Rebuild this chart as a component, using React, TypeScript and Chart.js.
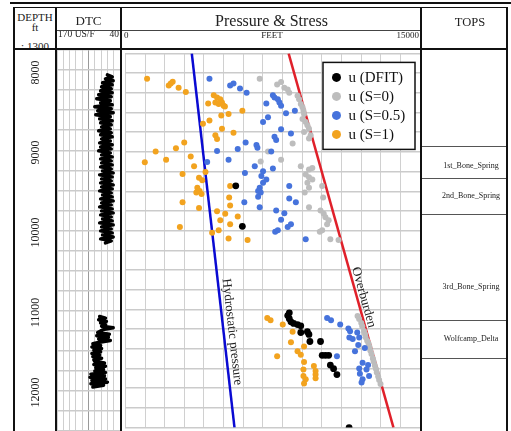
import React, { useEffect, useRef } from "react";
import { Chart, registerables } from "chart.js";

Chart.register(...registerables);

const SERIF = "'Liberation Serif', 'Times New Roman', Times, serif";

// Depth window shared by every track (ft, increasing downward)
const depthTop = 7720;
const depthBottom = 12480;
const depthGridStep = 250;
const depthMajorStep = 1000;
const depthLabels = [8000, 9000, 10000, 11000, 12000];

// Sonic track: DTC in us/ft, 170 on the left, 40 on the right
const dtcScaleLeft = 170;
const dtcScaleRight = 40;
const dtcGridStep = 13;

const dtcUpperTop = 8030;
const dtcUpperSpacing = 25;
const dtcUpper = [
  66, 56, 70, 54,
  76, 56, 78, 58, 80, 56,
  84, 58, 88, 60, 80, 56,
  92, 58, 86, 54, 90, 60, 82,
  56, 80, 58, 78, 60, 84, 58, 80, 56, 78, 60,
  82, 56, 80, 58, 84, 60, 78, 56, 80, 58,
  78, 56, 80, 58, 76, 54, 82, 56, 78, 58, 80, 54, 78, 56, 82, 58, 76, 56, 80, 54,
  78, 58, 82, 56, 78, 54, 80, 58, 76, 56, 82, 54, 78, 58, 80, 56, 76, 54, 80, 58, 70,
];

const dtcLowerTop = 11050;
const dtcLowerSpacing = 20;
const dtcLower = [
  82, 70, 84, 68, 80, 70, 78,
  54, 72, 80,
  86, 62, 88, 64, 84, 60, 82,
  96, 80, 98, 78, 94, 80, 98, 82, 96, 78, 94,
  92, 72, 94, 70, 90, 74, 92, 70,
  100, 72, 102, 70, 98, 66, 100, 74, 96,
];

// Pressure & stress track (psi)
const pressureMin = 0;
const pressureMax = 15000;
const pressureGridStep = 1000;

// Points are [pressure, depth]
type Pt = [number, number];

const uDfit: Pt[] = [
  [5620, 9405], [5955, 9920],
  [8345, 11020], [8265, 11055], [8345, 11095], [8430, 11135], [8565, 11155], [8765, 11170],
  [8930, 11185], [8930, 11270], [9265, 11260], [9345, 11295], [9395, 11385], [9935, 11385],
  [10020, 11560], [10185, 11560], [10350, 11560], [10435, 11685], [10600, 11730], [10770, 11805],
  [11390, 12480],
];

const uS0: Pt[] = [
  [6838, 8044], [7726, 8115], [7927, 8085], [8092, 8156], [8263, 8178], [8343, 8219],
  [8765, 8260], [8845, 8303], [8930, 8365], [9016, 8406], [9066, 8448], [9096, 8490],
  [9016, 8553], [9181, 8594], [9266, 8635], [9347, 8678], [9096, 8719], [9432, 8760],
  [9347, 8803], [8514, 8865], [7260, 8969], [7927, 9073], [6888, 9094], [8930, 9156],
  [9347, 9198], [9517, 9178], [9181, 9260], [9347, 9294], [9517, 9323], [9266, 9365],
  [10019, 9406], [9347, 9428], [9131, 9490], [10069, 9553], [9347, 9678], [9934, 9719],
  [10099, 9760], [10185, 9803], [10350, 9844], [10270, 9894], [10019, 9969], [9898, 9990],
  [10435, 10085], [10852, 10094],
  [11820, 11060], [11900, 11100], [12010, 11150], [12060, 11190], [12150, 11250],
  [12200, 11290], [12230, 11330], [12310, 11375], [12380, 11410], [12430, 11455],
  [12470, 11500], [12530, 11545], [12600, 11600], [12640, 11640], [12700, 11690],
  [12760, 11735], [12800, 11780], [12870, 11830], [12920, 11875], [12990, 11925],
];

const uS05: Pt[] = [
  [4280, 8044], [5333, 8128], [5504, 8103], [5835, 8165], [6171, 8219], [7510, 8253],
  [7591, 8281], [7761, 8303], [7842, 8344], [7927, 8385], [7174, 8356], [8178, 8481],
  [8629, 8448], [7260, 8531], [7009, 8594], [7927, 8685], [8429, 8740], [7591, 8781],
  [7676, 8823], [6121, 8853], [6673, 8885], [6723, 8919], [5719, 8935], [4666, 8960],
  [7425, 8969], [5253, 9073], [4164, 9103], [6587, 9156], [7510, 9185], [7009, 9219],
  [6923, 9281], [6086, 9240], [7174, 9323], [7009, 9365], [8343, 9406], [6838, 9428],
  [6758, 9469], [6888, 9490], [6758, 9544], [8343, 9565], [8679, 9615], [6055, 9615],
  [6838, 9678], [7676, 9719], [8092, 9753], [7927, 9835], [8429, 9894], [8263, 9928],
  [7626, 9990], [7761, 9969], [9181, 10085],
  [10270, 11085], [10470, 11115], [10937, 11169], [11354, 11219], [11439, 11253],
  [11805, 11269], [11404, 11335], [11574, 11353], [11905, 11335], [11855, 11428],
  [12191, 11469], [11690, 11510], [10771, 11573], [12076, 11656], [12357, 11685],
  [11905, 11728], [12276, 11740], [11940, 11794], [12407, 11823], [12076, 11865],
  [12025, 11906],
];

const uS1: Pt[] = [
  [1104, 8044], [2207, 8128], [2408, 8081], [2308, 8103], [2709, 8156], [3076, 8210],
  [4500, 8253], [4666, 8281], [4831, 8303], [4917, 8344], [4751, 8365], [5002, 8385],
  [4580, 8344], [4214, 8356], [5067, 8394], [5955, 8448], [5253, 8490], [4882, 8510],
  [4280, 8573], [3948, 8615], [4917, 8678], [5504, 8728], [4580, 8760], [4666, 8810],
  [2995, 8853], [2574, 8928], [1540, 8969], [3326, 9031], [2072, 9073], [988, 9106],
  [3497, 9156], [2910, 9253], [4079, 9228], [3748, 9303], [3913, 9335], [3662, 9428],
  [3778, 9469], [3612, 9490], [3878, 9510], [5333, 9406], [5283, 9553], [2910, 9615],
  [5333, 9656], [3748, 9685], [4666, 9728], [5082, 9760], [5719, 9794], [4831, 9844],
  [5333, 9894], [2774, 9928], [4751, 9969], [4415, 10003], [5253, 10073], [6221, 10094],
  [7224, 11085], [7390, 11115], [8012, 11169], [8514, 11260], [8429, 11394], [9096, 11448],
  [8765, 11510], [8930, 11553], [7726, 11573], [9096, 11644], [9597, 11698], [9066, 11740],
  [9683, 11760], [9066, 11823], [9181, 11865], [9096, 11919], [9683, 11803], [9683, 11853],
];

// Gradient lines: [pressure, depth] at the top and bottom of the window
const hydrostatic: Pt[] = [[3380, 7720], [5555, 12480]];
const overburden: Pt[] = [[8310, 7720], [13650, 12480]];
const lineLabelDepths = { hydrostatic: 11275, overburden: 10845 };

const legendOrder = ["u (DFIT)", "u (S=0)", "u (S=0.5)", "u (S=1)"];

// Formation tops
const topsNames = ["1st_Bone_Spring", "2nd_Bone_Spring", "3rd_Bone_Spring", "Wolfcamp_Delta"];
const topsBoundaries = [8895, 9310, 9760, 11115, 11595];
const topsLabelDepths = [9150, 9530, 10690, 11355];

const toXY = (pts: Pt[]) => pts.map(([x, y]) => ({ x, y }));

function depthScale(): any {
  return {
    type: "linear",
    reverse: true,
    min: depthTop,
    max: depthBottom,
    border: { display: false },
    ticks: { display: false, stepSize: depthGridStep, includeBounds: false },
    grid: {
      drawTicks: false,
      color: (c: any) => (c.tick && c.tick.value % depthMajorStep === 0 ? "#a8a8a8" : "#cbcbcb"),
      lineWidth: (c: any) => (c.tick && c.tick.value % depthMajorStep === 0 ? 2.5 : 1.5),
    },
  };
}

// Rotated depth numbers in the DEPTH column
const depthLabelPlugin = {
  id: "depthLabels",
  afterDraw(chart: any) {
    const { ctx, chartArea, scales } = chart;
    ctx.save();
    ctx.font = `12px ${SERIF}`;
    ctx.fillStyle = "#222";
    ctx.textAlign = "center";
    ctx.textBaseline = "middle";
    depthLabels.forEach((d) => {
      const y = scales.y.getPixelForValue(d);
      ctx.save();
      ctx.translate(chartArea.left - 21, y);
      ctx.rotate(-Math.PI / 2);
      ctx.fillText(String(d), 0, 0);
      ctx.restore();
    });
    ctx.restore();
  },
};

// Text written along the gradient lines
const lineLabelPlugin = {
  id: "lineLabels",
  afterDatasetsDraw(chart: any) {
    const { ctx, scales } = chart;
    const items: [string, Pt[], number, number][] = [
      ["Hydrostatic pressure", hydrostatic, lineLabelDepths.hydrostatic, 5],
      ["Overburden", overburden, lineLabelDepths.overburden, 3],
    ];
    ctx.save();
    ctx.font = `13px ${SERIF}`;
    ctx.fillStyle = "#222";
    ctx.textAlign = "center";
    ctx.textBaseline = "alphabetic";
    items.forEach(([text, line, depth, gap]) => {
      const [[v0, d0], [v1, d1]] = line;
      const v = v0 + ((v1 - v0) * (depth - d0)) / (d1 - d0);
      const px = scales.x.getPixelForValue(v);
      const py = scales.y.getPixelForValue(depth);
      const ang = Math.atan2(
        scales.y.getPixelForValue(d1) - scales.y.getPixelForValue(d0),
        scales.x.getPixelForValue(v1) - scales.x.getPixelForValue(v0)
      );
      ctx.save();
      ctx.translate(px, py);
      ctx.rotate(ang);
      ctx.fillText(text, 0, -gap);
      ctx.restore();
    });
    ctx.restore();
  },
};

// Boxed legend in the upper right of the pressure track
const boxLegendPlugin = {
  id: "boxLegend",
  afterDraw(chart: any) {
    const { ctx, chartArea } = chart;
    const w = 92;
    const h = 87;
    const x0 = chartArea.right - 5 - w;
    const y0 = chartArea.top + 9;
    ctx.save();
    ctx.fillStyle = "#fff";
    ctx.fillRect(x0, y0, w, h);
    ctx.strokeStyle = "#111";
    ctx.lineWidth = 1.5;
    ctx.strokeRect(x0, y0, w, h);
    ctx.font = `15px ${SERIF}`;
    ctx.textAlign = "left";
    ctx.textBaseline = "middle";
    legendOrder.forEach((label, i) => {
      const ds = chart.data.datasets.find((d: any) => d.label === label);
      const cy = y0 + 15 + i * 19;
      ctx.beginPath();
      ctx.arc(x0 + 13.5, cy, 4.5, 0, Math.PI * 2);
      ctx.fillStyle = ds.backgroundColor;
      ctx.fill();
      ctx.fillStyle = "#111";
      ctx.fillText(label, x0 + 25.5, cy + 1);
    });
    ctx.restore();
  },
};

// TOPS column to the right of the pressure track
const topsPlugin = {
  id: "tops",
  afterDraw(chart: any) {
    const { ctx, chartArea, scales, width } = chart;
    const left = chartArea.right + 2;
    const right = width;
    ctx.save();
    ctx.strokeStyle = "#555";
    ctx.lineWidth = 1;
    topsBoundaries.forEach((d) => {
      const y = Math.round(scales.y.getPixelForValue(d)) + 0.5;
      ctx.beginPath();
      ctx.moveTo(left, y);
      ctx.lineTo(right, y);
      ctx.stroke();
    });
    ctx.font = `8px ${SERIF}`;
    ctx.fillStyle = "#222";
    ctx.textAlign = "center";
    ctx.textBaseline = "middle";
    topsNames.forEach((name, i) => {
      ctx.fillText(name, left + 49, scales.y.getPixelForValue(topsLabelDepths[i]));
    });
    ctx.restore();
  },
};

function scatterSet(label: string, pts: Pt[], color: string, radius: number) {
  return {
    label,
    data: toXY(pts),
    showLine: false,
    backgroundColor: color,
    borderColor: color,
    borderWidth: 0,
    pointRadius: radius,
    pointHoverRadius: radius,
    pointBorderWidth: 0,
  };
}

function lineSet(label: string, pts: Pt[], color: string) {
  return {
    label,
    data: toXY(pts),
    showLine: true,
    borderColor: color,
    backgroundColor: color,
    borderWidth: 2.5,
    pointRadius: 0,
    fill: false,
  };
}

function dtcConfig(): any {
  const upper = dtcUpper.map((v, i) => ({ x: v, y: dtcUpperTop + i * dtcUpperSpacing }));
  const lower = dtcLower.map((v, i) => ({ x: v, y: dtcLowerTop + i * dtcLowerSpacing }));
  const curve = (data: any[]) => ({
    label: "DTC",
    data,
    showLine: true,
    borderColor: "#000",
    backgroundColor: "#000",
    borderWidth: 3.5,
    borderJoinStyle: "round",
    borderCapStyle: "round",
    pointRadius: 0,
    tension: 0,
  });
  return {
    type: "scatter",
    data: { datasets: [curve(upper), curve(lower)] },
    options: {
      responsive: false,
      animation: false,
      devicePixelRatio: 1,
      events: [],
      layout: { padding: { left: 42, right: 0, top: 0, bottom: 0 } },
      plugins: { legend: { display: false }, tooltip: { enabled: false } },
      scales: {
        x: {
          type: "linear",
          min: dtcScaleRight,
          max: dtcScaleLeft,
          reverse: true,
          border: { display: false },
          ticks: { display: false, stepSize: dtcGridStep },
          grid: {
            drawTicks: false,
            color: (c: any) => (c.tick && c.tick.value === 105 ? "#9a9a9a" : "#cfcfcf"),
            lineWidth: 1,
          },
        },
        y: depthScale(),
      },
    },
    plugins: [depthLabelPlugin],
  };
}

function pressureConfig(): any {
  return {
    type: "scatter",
    data: {
      datasets: [
        scatterSet("u (DFIT)", uDfit, "#000000", 3.4),
        scatterSet("u (S=1)", uS1, "#f2a31f", 3),
        scatterSet("u (S=0.5)", uS05, "#4673dc", 3),
        scatterSet("u (S=0)", uS0, "#bdbdbd", 3),
        lineSet("Hydrostatic pressure", hydrostatic, "#0a0ad2"),
        lineSet("Overburden", overburden, "#e0202a"),
      ],
    },
    options: {
      responsive: false,
      animation: false,
      devicePixelRatio: 1,
      events: [],
      layout: { padding: { left: 0, right: 86, top: 0, bottom: 0 } },
      plugins: { legend: { display: false }, tooltip: { enabled: false } },
      scales: {
        x: {
          type: "linear",
          min: pressureMin,
          max: pressureMax,
          border: { display: false },
          ticks: { display: false, stepSize: pressureGridStep },
          grid: { drawTicks: false, color: "#d0d0d0", lineWidth: 1 },
        },
        y: depthScale(),
      },
    },
    plugins: [lineLabelPlugin, boxLegendPlugin, topsPlugin],
  };
}

const abs = (left: number, top: number, width: number, height: number, extra: any = {}) => ({
  position: "absolute" as const,
  left,
  top,
  width,
  height,
  ...extra,
});

function Rule({ l, t, w, h, c = "#111" }: { l: number; t: number; w: number; h: number; c?: string }) {
  return <div style={abs(l, t, w, h, { background: c })} />;
}

function Label({ text, cx, cy, size, align = "center" }: { text: string; cx: number; cy: number; size: number; align?: string }) {
  const box = 200;
  const left = align === "center" ? cx - box / 2 : align === "left" ? cx : cx - box;
  return (
    <div
      style={abs(left, cy - size, box, size * 2, {
        lineHeight: `${size * 2}px`,
        fontSize: size,
        fontFamily: SERIF,
        color: "#222",
        textAlign: align,
        whiteSpace: "nowrap",
      })}
    >
      {text}
    </div>
  );
}

export default function App() {
  const dtcRef = useRef<HTMLCanvasElement>(null);
  const presRef = useRef<HTMLCanvasElement>(null);

  useEffect(() => {
    const dtc = new Chart(dtcRef.current as HTMLCanvasElement, dtcConfig());
    const pres = new Chart(presRef.current as HTMLCanvasElement, pressureConfig());
    return () => {
      dtc.destroy();
      pres.destroy();
    };
  }, []);

  return (
    <div
      style={{
        position: "fixed",
        left: 0,
        top: 0,
        width: 511,
        height: 431,
        overflow: "hidden",
        background: "#fff",
      }}
    >
      <canvas ref={dtcRef} width={105} height={381} style={abs(15, 50, 105, 381)} />
      <canvas ref={presRef} width={384} height={381} style={abs(122, 50, 384, 381)} />

      {/* frame */}
      <Rule l={10} t={2} w={501} h={2} />
      <Rule l={13} t={7} w={495} h={1} />
      <Rule l={13} t={48} w={495} h={2} />
      <Rule l={57} t={30} w={363} h={1} c="#444" />
      <Rule l={13} t={7} w={2} h={424} />
      <Rule l={55} t={7} w={2} h={424} />
      <Rule l={120} t={7} w={2} h={424} />
      <Rule l={420} t={7} w={2} h={424} />
      <Rule l={506} t={7} w={2} h={424} />

      {/* headers */}
      <div style={abs(15, 8, 40, 40, { overflow: "hidden" })}>
        <Label text="DEPTH" cx={20} cy={8.5} size={11} />
        <Label text="ft" cx={20} cy={19} size={11} />
        <Label text=": 1300" cx={20} cy={37.5} size={11} />
      </div>
      <Label text="DTC" cx={88.5} cy={20.5} size={13} />
      <div style={abs(57, 31, 63, 17, { overflow: "hidden" })}>
        <Label text="170 US/F" cx={1} cy={3.5} size={9.5} align="left" />
        <Label text="40" cx={62} cy={3.5} size={9.5} align="right" />
      </div>
      <Label text="Pressure & Stress" cx={271.5} cy={21} size={16} />
      <Label text="0" cx={124} cy={35} size={9} align="left" />
      <Label text="FEET" cx={272} cy={35} size={9} />
      <Label text="15000" cx={419} cy={35} size={9} align="right" />
      <Label text="TOPS" cx={470} cy={22.5} size={12.5} />
    </div>
  );
}
